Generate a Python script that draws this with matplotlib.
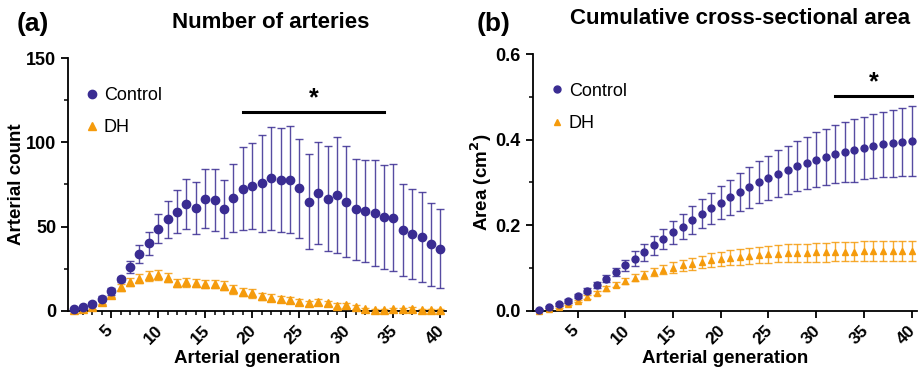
import matplotlib
matplotlib.use('Agg')
import matplotlib.pyplot as plt
import matplotlib.transforms as mtransforms
import numpy as np

plt.rcParams['font.family'] = ['Liberation Sans', 'DejaVu Sans']

PURPLE = '#3a2c92'
ORANGE = '#f59b0c'

generations = list(range(1, 41))
x_ticks = [5, 10, 15, 20, 25, 30, 35, 40]

# (a) number of arteries
count_control = [1, 2, 4, 7, 11.5, 18.6, 25.8, 33.7, 40, 48.7, 54.3, 58.9, 63.4, 60.8, 66.6, 65.8,
                 60.6, 67, 72.5, 74.1, 75.7, 78.7, 77.5, 77.7, 72.7, 64.8, 69.7, 66.6, 68.8, 64.8,
                 60.2, 59.2, 57.9, 55.7, 55.3, 48, 45.6, 43.8, 39.4, 36.9]
count_control_sd = [0.5, 0.8, 1, 1.5, 2, 1.5, 3.6, 5.5, 7, 8.7, 11, 12.6, 15, 15.5, 17.6, 18.2,
                    17.3, 20, 24.5, 25.8, 29, 30.7, 31, 31.8, 29.4, 28.2, 30.3, 31, 34.3, 32.8,
                    30, 30.2, 31.5, 31, 32, 27.5, 26.8, 26.5, 24.5, 23.3]
count_dh = [0.5, 1, 2, 5, 9.5, 13.9, 17.2, 19, 20.6, 21, 19.6, 16.6, 16.8, 16.6, 15.9, 16, 14.9,
            12.7, 11.1, 10.3, 8.5, 7.7, 6.9, 6.3, 5, 4.4, 5.2, 4.4, 3, 3.2, 2, 0.8, 0.4, 0.4, 0.8,
            0.8, 1, 0.4, 0.4, 0.2]
count_dh_sd = [0.3, 0.5, 0.8, 1, 1.5, 2, 2.5, 2.8, 3, 3, 2.8, 2.5, 2.5, 2.5, 2.5, 2.5, 2.5, 2.5,
               2.5, 2.5, 2, 2, 2, 2, 1.8, 1.5, 1.8, 1.5, 1.5, 1.5, 1.2, 1, 0.8, 0.8, 1, 1, 1, 0.8,
               0.8, 0.6]

# (b) cumulative cross-sectional area
area_control = [0.002, 0.008, 0.015, 0.023, 0.035, 0.047, 0.06, 0.075, 0.09, 0.106, 0.122, 0.137,
                0.153, 0.168, 0.183, 0.197, 0.212, 0.227, 0.24, 0.253, 0.266, 0.278, 0.289, 0.301,
                0.311, 0.321, 0.33, 0.339, 0.346, 0.353, 0.36, 0.366, 0.371, 0.375, 0.381, 0.385,
                0.389, 0.392, 0.395, 0.397]
area_control_sd = [0.001, 0.002, 0.003, 0.004, 0.005, 0.006, 0.007, 0.008, 0.01, 0.013, 0.017,
                   0.02, 0.022, 0.024, 0.027, 0.03, 0.033, 0.034, 0.036, 0.039, 0.041, 0.045,
                   0.048, 0.05, 0.052, 0.054, 0.056, 0.058, 0.061, 0.064, 0.066, 0.068, 0.07,
                   0.073, 0.073, 0.075, 0.076, 0.078, 0.079, 0.081]
area_dh = [0.0, 0.003, 0.008, 0.015, 0.023, 0.032, 0.042, 0.052, 0.061, 0.069, 0.077, 0.084, 0.09,
           0.096, 0.101, 0.106, 0.11, 0.114, 0.118, 0.121, 0.124, 0.126, 0.128, 0.13, 0.132,
           0.133, 0.134, 0.135, 0.136, 0.137, 0.137, 0.138, 0.138, 0.138, 0.139, 0.139, 0.139,
           0.139, 0.14, 0.14]
area_dh_sd = [0.001, 0.001, 0.002, 0.002, 0.003, 0.004, 0.005, 0.005, 0.006, 0.007, 0.008, 0.009,
              0.01, 0.011, 0.012, 0.013, 0.014, 0.015, 0.016, 0.017, 0.017, 0.018, 0.019, 0.019,
              0.02, 0.02, 0.021, 0.021, 0.021, 0.022, 0.022, 0.022, 0.022, 0.022, 0.023, 0.023,
              0.023, 0.023, 0.023, 0.023]


def draw_panel(ax, control, control_sd, dh, dh_sd, ms, legend_y):
    # DH below, control on top
    ax.errorbar(generations, dh, yerr=dh_sd, fmt='none', ecolor=ORANGE, elinewidth=1,
                capsize=3, capthick=1, alpha=0.85, zorder=2, clip_on=False)
    ax.plot(generations, dh, linestyle='none', marker='^', ms=ms, color=ORANGE, label='DH',
            zorder=3, clip_on=False)
    ax.errorbar(generations, control, yerr=control_sd, fmt='none', ecolor=PURPLE, elinewidth=1,
                capsize=3, capthick=1, alpha=0.85, zorder=4, clip_on=False)
    ax.plot(generations, control, linestyle='none', marker='o', ms=ms, color=PURPLE,
            label='Control', zorder=5, clip_on=False)

    handles, labels = ax.get_legend_handles_labels()
    ax.legend(handles[::-1], labels[::-1], loc='upper left', bbox_to_anchor=(0.03, legend_y),
              frameon=False, fontsize=13, handlelength=0.6, handletextpad=0.35,
              labelspacing=0.85, borderaxespad=0)

    for side in ['top', 'right']:
        ax.spines[side].set_visible(False)
    for side in ['left', 'bottom']:
        ax.spines[side].set_linewidth(1.3)
    ax.set_xticks(x_ticks)
    ax.set_xticklabels([str(t) for t in x_ticks], rotation=45, ha='center', fontweight='bold',
                       fontsize=12.5)
    ax.tick_params(axis='both', which='major', length=5, width=1.3)
    ax.tick_params(axis='y', which='major', labelsize=13)
    ax.tick_params(axis='both', which='minor', length=3, width=1.1)
    ax.set_xlabel('Arterial generation', fontsize=13.5, fontweight='bold', labelpad=2)


fig = plt.figure(figsize=(9.19, 3.74), dpi=100)

ax1 = fig.add_axes([0.074, 0.1693, 0.4113, 0.6748])
draw_panel(ax1, count_control, count_control_sd, count_dh, count_dh_sd, 6, 0.915)
ax1.set_xlim(0.4, 40.6)
ax1.set_ylim(0, 150)
ax1.set_yticks([0, 50, 100, 150])
ax1.set_yticks([25, 75, 125], minor=True)
ax1.set_xticks(generations, minor=True)
ax1.set_yticklabels(['0', '50', '100', '150'], fontweight='bold')
ax1.set_ylabel('Arterial count', fontsize=13.5, fontweight='bold', labelpad=1)
ax1.plot([19, 34], [118, 118], color='black', lw=2.2, clip_on=False)
ax1.text(26.5, 119, '*', ha='center', va='bottom', fontsize=18, fontweight='bold')

ax2 = fig.add_axes([0.5797, 0.1693, 0.4185, 0.6855])
draw_panel(ax2, area_control, area_control_sd, area_dh, area_dh_sd, 5, 0.918)
ax2.set_xlim(0.3, 40.6)
ax2.set_ylim(0, 0.6)
ax2.set_yticks([0, 0.2, 0.4, 0.6])
ax2.set_yticks([0.1, 0.3, 0.5], minor=True)
ax2.set_yticklabels(['0.0', '0.2', '0.4', '0.6'], fontweight='bold')
ax2.set_ylabel('Area (cm$^\\mathbf{2}$)', fontsize=13.5, fontweight='bold', labelpad=1)
ax2.plot([32, 40], [0.503, 0.503], color='black', lw=2.2, clip_on=False)
ax2.text(36, 0.507, '*', ha='center', va='bottom', fontsize=18, fontweight='bold')

# nudge rotated x labels a little to the left, like the original
shift = mtransforms.ScaledTranslation(-5 / 100, 0, fig.dpi_scale_trans)
for ax in [ax1, ax2]:
    for lbl in ax.get_xticklabels():
        lbl.set_transform(lbl.get_transform() + shift)

fig.text(271 / 919, 1 - 23 / 374, 'Number of arteries', ha='center', va='center',
         fontsize=16, fontweight='bold')
fig.text(740 / 919, 1 - 18 / 374, 'Cumulative cross-sectional area', ha='center', va='center',
         fontsize=16, fontweight='bold')
fig.text(33 / 919, 1 - 24 / 374, '(a)', ha='center', va='center', fontsize=19, fontweight='bold')
fig.text(494 / 919, 1 - 24 / 374, '(b)', ha='center', va='center', fontsize=19, fontweight='bold')

fig.savefig('out.png', dpi=100)
